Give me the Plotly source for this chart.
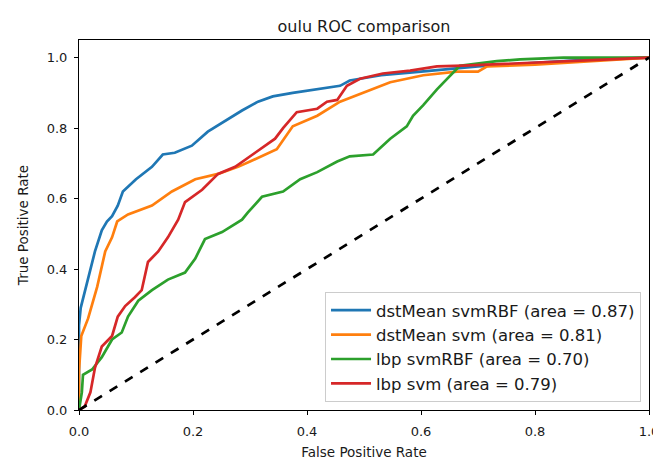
import plotly.graph_objects as go

# ---- data ----
blue_fpr = [0.0, 0.0, 0.003, 0.016, 0.028, 0.04, 0.049, 0.058, 0.068, 0.077, 0.10, 0.128, 0.147, 0.168, 0.198, 0.226, 0.256, 0.286, 0.314, 0.34, 0.375, 0.42, 0.458, 0.475, 0.53, 0.6, 0.7, 0.8, 0.9, 1.0]
blue_tpr = [0.0, 0.24, 0.29, 0.37, 0.45, 0.51, 0.535, 0.55, 0.58, 0.62, 0.655, 0.69, 0.725, 0.73, 0.75, 0.79, 0.82, 0.85, 0.875, 0.89, 0.90, 0.91, 0.92, 0.935, 0.95, 0.96, 0.975, 0.985, 0.995, 1.0]

orange_fpr = [0.0, 0.0, 0.004, 0.016, 0.032, 0.046, 0.058, 0.067, 0.086, 0.128, 0.163, 0.204, 0.244, 0.279, 0.30, 0.321, 0.347, 0.375, 0.418, 0.458, 0.498, 0.546, 0.604, 0.663, 0.70, 0.716, 0.8, 0.9, 1.0]
orange_tpr = [0.0, 0.11, 0.21, 0.26, 0.35, 0.45, 0.49, 0.535, 0.555, 0.58, 0.62, 0.655, 0.67, 0.69, 0.705, 0.72, 0.74, 0.805, 0.835, 0.875, 0.90, 0.93, 0.95, 0.96, 0.96, 0.975, 0.98, 0.99, 1.0]

green_fpr = [0.0, 0.005, 0.007, 0.023, 0.04, 0.058, 0.075, 0.086, 0.104, 0.128, 0.156, 0.186, 0.204, 0.221, 0.251, 0.286, 0.296, 0.321, 0.358, 0.388, 0.418, 0.453, 0.475, 0.516, 0.546, 0.575, 0.586, 0.604, 0.628, 0.651, 0.668, 0.733, 0.774, 0.85, 1.0]
green_tpr = [0.0, 0.05, 0.10, 0.115, 0.15, 0.20, 0.22, 0.265, 0.31, 0.34, 0.37, 0.39, 0.43, 0.485, 0.505, 0.54, 0.56, 0.605, 0.62, 0.655, 0.675, 0.705, 0.72, 0.725, 0.77, 0.805, 0.835, 0.865, 0.91, 0.95, 0.977, 0.99, 0.995, 1.0, 1.0]

red_fpr = [0.0, 0.01, 0.02, 0.028, 0.04, 0.058, 0.068, 0.081, 0.098, 0.11, 0.121, 0.139, 0.156, 0.174, 0.186, 0.216, 0.244, 0.274, 0.309, 0.344, 0.358, 0.382, 0.418, 0.435, 0.453, 0.47, 0.493, 0.533, 0.581, 0.628, 0.674, 0.8, 0.9, 1.0]
red_tpr = [0.0, 0.01, 0.05, 0.12, 0.18, 0.21, 0.265, 0.295, 0.32, 0.34, 0.42, 0.45, 0.49, 0.54, 0.59, 0.625, 0.67, 0.69, 0.73, 0.77, 0.80, 0.845, 0.855, 0.875, 0.88, 0.92, 0.94, 0.955, 0.963, 0.975, 0.977, 0.985, 0.993, 1.0]

series_names = ["dstMean svmRBF (area = 0.87)", "dstMean svm (area = 0.81)",
                "lbp svmRBF (area = 0.70)", "lbp svm (area = 0.79)"]
series_colors = ["#1f77b4", "#ff7f0e", "#2ca02c", "#d62728"]
series_x = [blue_fpr, orange_fpr, green_fpr, red_fpr]
series_y = [blue_tpr, orange_tpr, green_tpr, red_tpr]

chance_x = [0, 1]
chance_y = [0, 1]
tick_vals = [0.0, 0.2, 0.4, 0.6, 0.8, 1.0]
tick_text = ["0.0", "0.2", "0.4", "0.6", "0.8", "1.0"]

fig = go.Figure()
for name, color, xs, ys in zip(series_names, series_colors, series_x, series_y):
    fig.add_trace(go.Scatter(x=xs, y=ys, mode="lines", name=name,
                             line=dict(color=color, width=2.7)))
fig.add_trace(go.Scatter(x=chance_x, y=chance_y, mode="lines", showlegend=False,
                         line=dict(color="black", width=2.7, dash="dash")))

font = "DejaVu Sans"
txt = "#1a1a1a"
axis_common = dict(showline=True, linecolor="black", linewidth=1, mirror=True,
                   ticks="outside", ticklen=4, tickcolor="black",
                   showgrid=False, zeroline=False, automargin=False,
                   tickvals=tick_vals, ticktext=tick_text,
                   tickfont=dict(family=font, size=13, color=txt))

fig.update_layout(
    width=653, height=454,
    margin=dict(l=71, r=12, t=32, b=52),
    paper_bgcolor="white", plot_bgcolor="white",
    title=dict(text="oulu ROC comparison", x=0.5, xref="paper", xanchor="center",
               y=1, yref="paper", yanchor="bottom", pad=dict(b=8),
               font=dict(family=font, size=16, color=txt)),
    xaxis=dict(range=[0, 1], ticklabelstandoff=5,
               title=dict(text="False Positive Rate", standoff=9,
                          font=dict(family=font, size=13.5, color=txt)), **axis_common),
    yaxis=dict(range=[0, 1.05], ticklabelstandoff=4,
               title=dict(text="True Positive Rate", standoff=14,
                          font=dict(family=font, size=13.5, color=txt)), **axis_common),
    legend=dict(x=0.986, y=0.022, xanchor="right", yanchor="bottom",
                bgcolor="rgba(255,255,255,0.85)", bordercolor="#cccccc", borderwidth=1,
                font=dict(family=font, size=16.5, color=txt),
                tracegroupgap=0, itemwidth=40),
    showlegend=True,
)

fig.write_html("out.html")
